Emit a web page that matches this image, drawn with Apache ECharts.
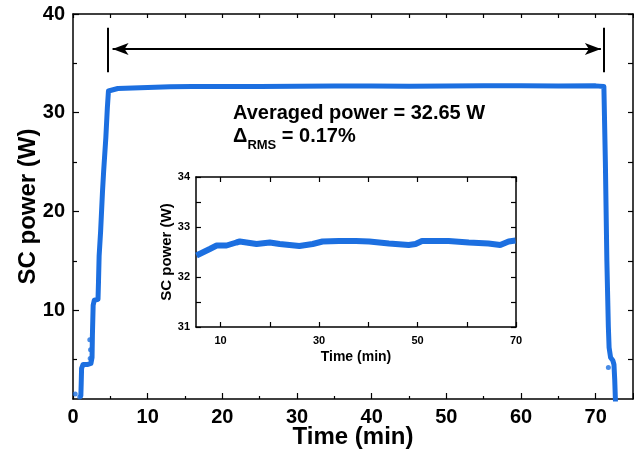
<!DOCTYPE html>
<html><head><meta charset="utf-8">
<script src="https://cdn.jsdelivr.net/npm/echarts@6/dist/echarts.min.js"></script>
<style>html,body{margin:0;padding:0;background:#fff}#c{width:634px;height:458px}</style>
</head><body><div id="c"></div>
<script>
// Main chart: connected trace (time in min, SC power in W)
const mainTime  = [1.05, 1.1, 1.15, 1.35, 2.0, 2.4, 2.55, 2.6, 2.7, 2.85, 3.35, 3.42, 3.5, 3.7, 3.95, 4.1, 4.4, 4.6, 4.75, 5.0, 6, 8, 10, 13, 16, 20, 25, 30, 35, 40, 45, 50, 55, 60, 65, 70, 71.1, 71.3, 71.5, 71.7, 71.8, 72.0, 72.3, 72.45, 72.55, 72.65];
const mainPower = [1.3, 2.6, 4.1, 4.5, 4.5, 4.6, 5.2, 7.5, 10.5, 11.0, 11.1, 13.0, 15.5, 18.0, 22.0, 24.0, 27.5, 30.5, 32.2, 32.4, 32.45, 32.5, 32.55, 32.62, 32.65, 32.65, 32.66, 32.67, 32.7, 32.7, 32.68, 32.7, 32.72, 32.72, 32.7, 32.72, 32.65, 25, 15, 8.3, 6.2, 5.2, 4.9, 4.5, 3.0, 0.8];
// Main chart: isolated points
const dotTime  = [0.3, 0.9, 2.3, 2.35, 2.25, 71.7];
const dotPower = [1.5, 1.2, 5.1, 6.0, 7.0, 4.2];
// Inset
const insetTime  = [5.1, 7.8, 9.2, 11.2, 13.2, 13.9, 17.3, 20, 22, 26, 28.7, 30.7, 34, 37.5, 40.2, 44.2, 48.2, 49.6, 50.9, 56.3, 60.4, 64.4, 66.8, 68.5, 69.9];
const insetPower = [32.43, 32.56, 32.63, 32.63, 32.69, 32.71, 32.66, 32.69, 32.66, 32.62, 32.66, 32.71, 32.72, 32.72, 32.71, 32.67, 32.64, 32.66, 32.72, 32.72, 32.69, 32.67, 32.64, 32.71, 32.73];
// Ticks
const mainYLabels = [10, 20, 30, 40];
const mainYMinor = [5, 15, 25, 35];
const mainYAll = [5, 10, 15, 20, 25, 30, 35, 40];
const insetXTicks = [10, 20, 30, 40, 50, 60, 70];
const insetXLabels = [10, 30, 50, 70];
// Annotation
const arrowY = 36.45, arrowX0 = 5.3, arrowX1 = 70.7;
const barX0 = 4.7, barX1 = 71.05, barY0 = 34.1, barY1 = 38.6;

const zip = (a, b) => a.map((v, i) => [v, b[i]]);
const BLUE = '#1c6fe0';
const FONT = 'Liberation Sans, Arial, sans-serif';
const line = {lineStyle: {color: '#000', width: 1.5}};

const chart = echarts.init(document.getElementById('c'), null, {renderer: 'canvas'});
chart.setOption({
  animation: false,
  backgroundColor: '#fff',
  grid: [
    {left: 73, right: 1, top: 14, bottom: 59, show: false},
    {left: 196, top: 177, width: 320, height: 150, show: true, backgroundColor: '#fff', borderColor: 'transparent'}
  ],
  xAxis: [
    {gridIndex: 0, type: 'value', position: 'bottom', min: 0, max: 75, interval: 10,
     axisLine: line, splitLine: {show: false},
     axisTick: {inside: true, length: 6, lineStyle: {color: '#000', width: 1.2}},
     minorTick: {show: true, splitNumber: 2, length: 3, lineStyle: {color: '#000', width: 1.2}},
     axisLabel: {color: '#000', fontFamily: FONT, fontWeight: 'bold', fontSize: 20, margin: 8, showMaxLabel: false},
     name: 'Time (min)', nameLocation: 'middle', nameGap: 26, nameMoveOverlap: false,
     nameTextStyle: {color: '#000', fontFamily: FONT, fontWeight: 'bold', fontSize: 24}},
    {gridIndex: 0, type: 'value', position: 'top', min: 0, max: 75, interval: 10,
     axisLine: line, splitLine: {show: false}, axisLabel: {show: false},
     axisTick: {inside: true, length: 4, lineStyle: {color: '#000', width: 1.2}},
     minorTick: {show: true, splitNumber: 2, length: 4, lineStyle: {color: '#000', width: 1.2}}},
    {gridIndex: 1, type: 'value', position: 'bottom', min: 5, max: 70,
     axisLine: line, splitLine: {show: false},
     axisTick: {inside: true, length: 5, customValues: insetXTicks, lineStyle: {color: '#000', width: 1.2}},
     axisLabel: {customValues: insetXLabels, color: '#000', fontFamily: FONT, fontWeight: 'bold', fontSize: 11, margin: 8},
     name: 'Time (min)', nameLocation: 'middle', nameGap: 23, nameMoveOverlap: false,
     nameTextStyle: {color: '#000', fontFamily: FONT, fontWeight: 'bold', fontSize: 14}},
    {gridIndex: 1, type: 'value', position: 'top', min: 5, max: 70,
     axisLine: line, splitLine: {show: false}, axisLabel: {show: false},
     axisTick: {inside: true, length: 5, customValues: insetXTicks, lineStyle: {color: '#000', width: 1.2}}}
  ],
  yAxis: [
    {gridIndex: 0, type: 'value', position: 'left', min: 1, max: 40,
     axisLine: line, splitLine: {show: false},
     axisTick: {inside: true, length: 6, customValues: mainYLabels, lineStyle: {color: '#000', width: 1.2}},
     axisLabel: {customValues: mainYLabels, color: '#000', fontFamily: FONT, fontWeight: 'bold', fontSize: 20, margin: 8},
     name: 'SC power (W)', nameLocation: 'middle', nameGap: 33, nameMoveOverlap: false,
     nameTextStyle: {color: '#000', fontFamily: FONT, fontWeight: 'bold', fontSize: 24}},
    {gridIndex: 0, type: 'value', position: 'left', min: 1, max: 40,
     axisLine: {show: false}, splitLine: {show: false}, axisLabel: {show: false},
     axisTick: {inside: true, length: 4, customValues: mainYMinor, lineStyle: {color: '#000', width: 1.2}}},
    {gridIndex: 0, type: 'value', position: 'right', min: 1, max: 40,
     axisLine: line, splitLine: {show: false}, axisLabel: {show: false},
     axisTick: {inside: true, length: 5, customValues: mainYAll, lineStyle: {color: '#000', width: 1.2}}},
    {gridIndex: 1, type: 'value', position: 'left', min: 31, max: 34, interval: 0.5,
     axisLine: line, splitLine: {show: false},
     axisTick: {inside: true, length: 5, lineStyle: {color: '#000', width: 1.2}},
     axisLabel: {color: '#000', fontFamily: FONT, fontWeight: 'bold', fontSize: 11, margin: 6,
       formatter: v => (Math.abs(v - Math.round(v)) < 1e-6 ? String(Math.round(v)) : '')},
     name: 'SC power (W)', nameLocation: 'middle', nameGap: 22, nameMoveOverlap: false,
     nameTextStyle: {color: '#000', fontFamily: FONT, fontWeight: 'bold', fontSize: 15}},
    {gridIndex: 1, type: 'value', position: 'right', min: 31, max: 34, interval: 0.5,
     axisLine: line, splitLine: {show: false}, axisLabel: {show: false},
     axisTick: {inside: true, length: 5, lineStyle: {color: '#000', width: 1.2}}}
  ],
  series: [
    {type: 'line', xAxisIndex: 0, yAxisIndex: 0, data: zip(mainTime, mainPower),
     showSymbol: false, lineStyle: {color: BLUE, width: 5, join: 'round', cap: 'round'}, z: 3,
     markLine: {
       silent: true, symbol: ['none', 'none'], label: {show: false},
       lineStyle: {color: '#000', width: 2, type: 'solid'},
       data: [
         [{coord: [arrowX0, arrowY], symbol: 'arrow', symbolSize: [9, 16]}, {coord: [arrowX1, arrowY], symbol: 'arrow', symbolSize: [9, 16]}],
         [{coord: [barX0, barY0]}, {coord: [barX0, barY1]}],
         [{coord: [barX1, barY0]}, {coord: [barX1, barY1]}]
       ]
     }},
    {type: 'scatter', xAxisIndex: 0, yAxisIndex: 0, data: zip(dotTime, dotPower),
     symbolSize: 5, itemStyle: {color: BLUE}, z: 3},
    {type: 'line', xAxisIndex: 2, yAxisIndex: 3, data: zip(insetTime, insetPower),
     showSymbol: false, lineStyle: {color: BLUE, width: 6}, z: 5}
  ],
  graphic: [
    {type: 'text', left: 233, top: 103, z: 10,
     style: {text: 'Averaged power = 32.65 W', fill: '#000', font: 'bold 20px ' + FONT}},
    {type: 'text', left: 233, top: 126, z: 10,
     style: {text: '{a|Δ}{b|RMS}{a| = 0.17%}', fill: '#000',
       rich: {a: {font: 'bold 20px ' + FONT, fill: '#000', lineHeight: 24, verticalAlign: 'bottom'},
              b: {font: 'bold 13px ' + FONT, fill: '#000', lineHeight: 24, verticalAlign: 'bottom', padding: [0, 0, -6, 0]}}}}
  ]
});
</script></body></html>
